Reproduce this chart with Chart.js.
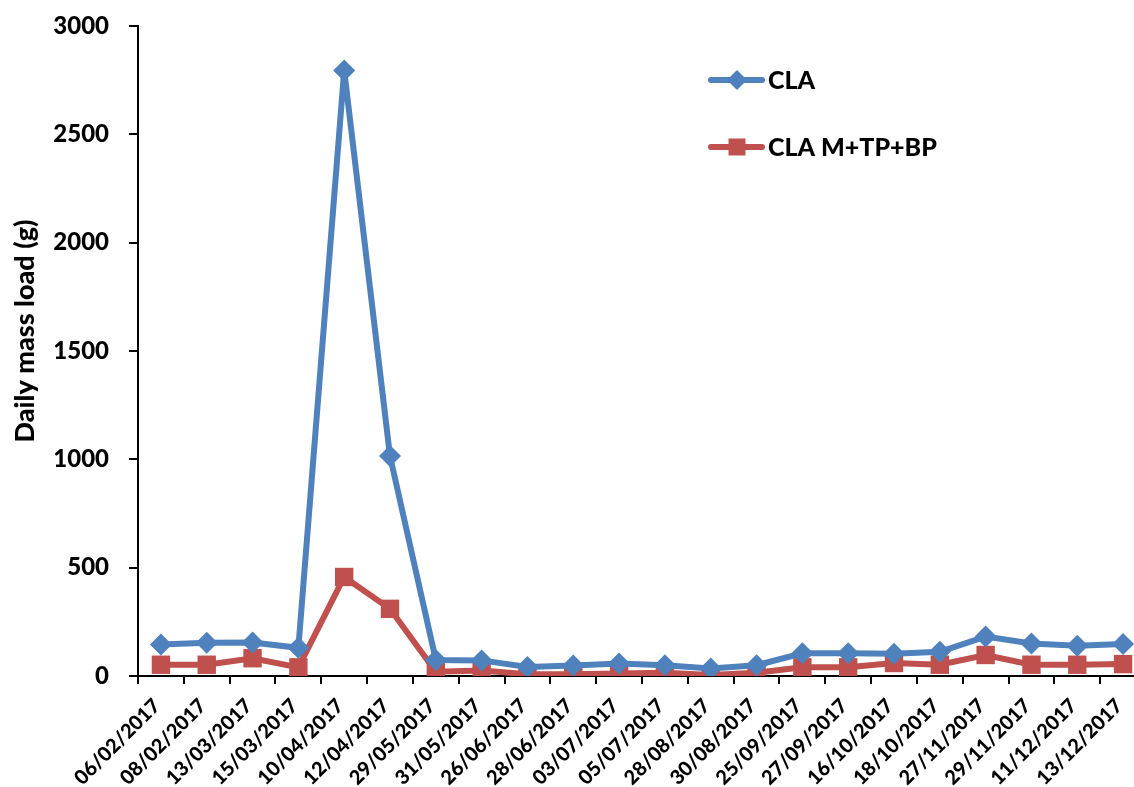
<!DOCTYPE html>
<html>
<head>
<meta charset="utf-8">
<script src="https://cdn.jsdelivr.net/npm/chart.js@4"></script>
<style>
  html, body { margin: 0; padding: 0; background: #fff; overflow: hidden; }
  #wrap { width: 1159px; height: 787px; }
</style>
</head>
<body>
<div id="wrap"><canvas id="chart"></canvas></div>
<script>
const dates = [
  '06/02/2017', '08/02/2017', '13/03/2017', '15/03/2017', '10/04/2017', '12/04/2017',
  '29/05/2017', '31/05/2017', '26/06/2017', '28/06/2017', '03/07/2017', '05/07/2017',
  '28/08/2017', '30/08/2017', '25/09/2017', '27/09/2017', '16/10/2017', '18/10/2017',
  '27/11/2017', '29/11/2017', '11/12/2017', '13/12/2017'
];
const cla = [145, 153, 155, 130, 2795, 1015, 74, 72, 42, 48, 58, 50, 35, 50, 105, 105, 103, 112, 182, 150, 140, 148];
const claSum = [52, 52, 82, 40, 457, 310, 20, 25, 8, 8, 12, 15, 5, 15, 40, 40, 60, 52, 97, 52, 52, 55];
const yTicks = [0, 500, 1000, 1500, 2000, 2500, 3000];
const yTitle = 'Daily mass load (g)';

const FONT = 'Lato, "Liberation Sans", sans-serif';
const WEIGHT = '900';

// legend drawn inside the plot, top right + y title a bit above centre
const extras = {
  id: 'extras',
  afterDatasetsDraw(chart) {
    const ctx = chart.ctx;
    const rows = [80, 147];
    chart.data.datasets.forEach((ds, i) => {
      const y = rows[i];
      ctx.save();
      ctx.strokeStyle = ds.borderColor;
      ctx.lineWidth = 6;
      ctx.lineCap = 'round';
      ctx.beginPath();
      ctx.moveTo(711, y);
      ctx.lineTo(762, y);
      ctx.stroke();
      ctx.fillStyle = ds.backgroundColor;
      Chart.helpers.drawPoint(ctx, { pointStyle: ds.pointStyle, radius: ds.pointStyle === 'rect' ? 12 : 10, borderWidth: 0 }, 737, y);
      ctx.fillStyle = '#000';
      ctx.font = WEIGHT + ' 25px ' + FONT;
      ctx.textBaseline = 'middle';
      ctx.fillText(ds.label, 768, y + 1);
      ctx.restore();
    });

    ctx.save();
    ctx.translate(25, 331);
    ctx.rotate(-Math.PI / 2);
    ctx.fillStyle = '#000';
    ctx.font = WEIGHT + ' 27px ' + FONT;
    ctx.textAlign = 'center';
    ctx.textBaseline = 'middle';
    ctx.fillText(yTitle, 0, 0);
    ctx.restore();
  }
};

new Chart(document.getElementById('chart'), {
  type: 'line',
  data: {
    labels: dates,
    datasets: [
      {
        label: 'CLA',
        data: cla,
        borderColor: '#4F81BD',
        backgroundColor: '#4F81BD',
        borderWidth: 6,
        pointStyle: 'rectRot',
        pointRadius: 11,
        pointBorderWidth: 0,
        tension: 0,
      },
      {
        label: 'CLA M+TP+BP',
        data: claSum,
        borderColor: '#C0504D',
        backgroundColor: '#C0504D',
        borderWidth: 6,
        pointStyle: 'rect',
        pointRadius: 13,
        pointBorderWidth: 0,
        tension: 0,
      },
    ],
  },
  options: {
    responsive: true,
    maintainAspectRatio: false,
    animation: false,
    layout: { padding: { top: 26, right: 0, left: 0, bottom: 0 } },
    plugins: {
      legend: { display: false },
      tooltip: { enabled: false },
    },
    scales: {
      x: {
        type: 'category',
        offset: true,
        border: { color: '#000', width: 2 },
        grid: { offset: true, drawOnChartArea: false, color: '#000', lineWidth: 2, tickLength: 8 },
        ticks: {
          color: '#000',
          font: { family: FONT, size: 20, weight: WEIGHT },
          maxRotation: 45,
          minRotation: 45,
          autoSkip: false,
          labelOffset: -4,
          padding: 10,
        },
        afterFit: (s) => {
          s.height = 111;
          s.paddingLeft = 0;
          s.paddingRight = 0;
        },
      },
      y: {
        min: 0,
        max: 3000,
        afterBuildTicks: (s) => { s.ticks = yTicks.map((v) => ({ value: v })); },
        border: { color: '#000', width: 2 },
        grid: { drawOnChartArea: false, color: '#000', lineWidth: 2, tickLength: 9 },
        ticks: {
          color: '#000',
          font: { family: FONT, size: 24, weight: WEIGHT },
          padding: 20,
          callback: (v) => String(v),
        },
        afterFit: (s) => {
          s.width = 138;
          s.paddingTop = 0;
          s.paddingBottom = 0;
        },
      },
    },
  },
  plugins: [extras],
});
</script>
</body>
</html>
